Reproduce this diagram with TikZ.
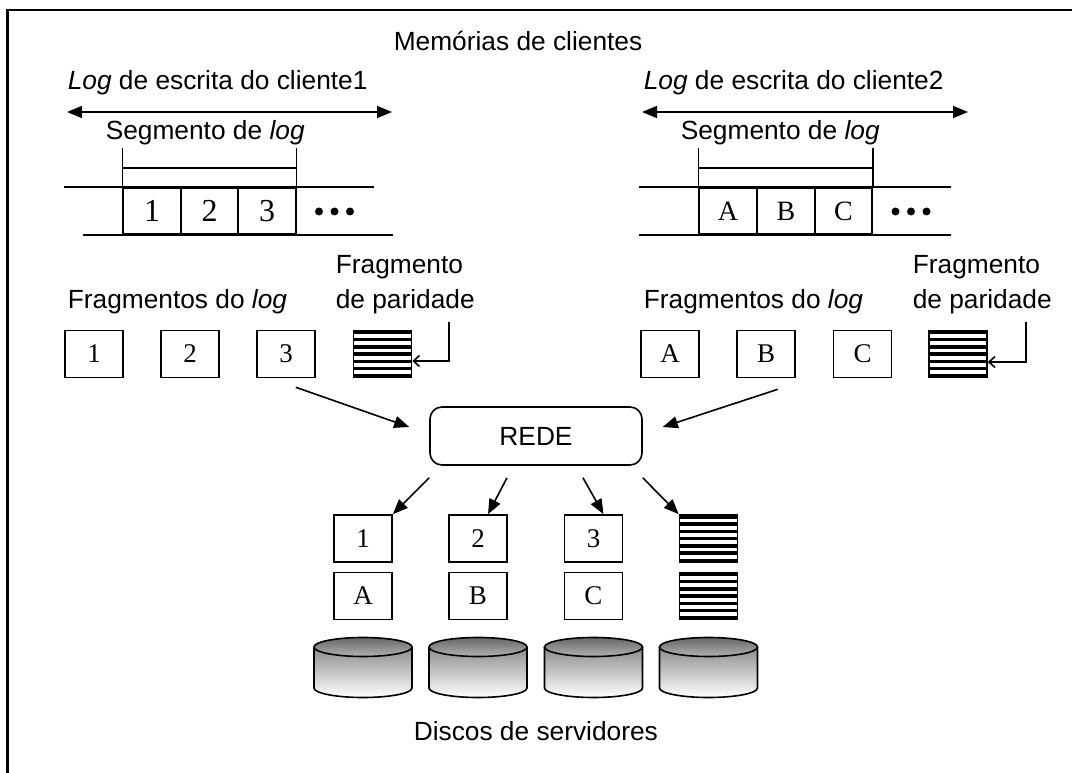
\documentclass[tikz,border=0pt]{standalone}
\usepackage{fontspec}
\setmainfont{Liberation Sans}
\newfontfamily\serifnum{Liberation Serif}
\usetikzlibrary{arrows.meta}
\begin{document}
\begin{tikzpicture}[x=1pt,y=-1pt,line width=1.6pt,
  lbl/.style={anchor=base west,inner sep=0pt,font=\fontsize{26.3}{31}\selectfont},
  cell/.style={draw,minimum width=57.5pt,minimum height=46pt,inner sep=0pt,font=\serifnum\fontsize{32}{32}\selectfont},
  cellb/.style={cell,font=\serifnum\fontsize{28}{28}\selectfont},
  frag/.style={draw,minimum width=58pt,minimum height=47pt,inner sep=0pt,font=\serifnum\fontsize{27}{27}\selectfont},
  parity/.style={draw,minimum width=58pt,minimum height=47pt,inner sep=0pt,
    path picture={\foreach \k in {0,...,6}{\fill ([yshift=-\k*7.25pt]path picture bounding box.north west) rectangle ++(60pt,-3.6pt);}}},
  rede/.style={draw,rounded corners=12pt,minimum width=212pt,minimum height=58pt,inner sep=0pt,font=\fontsize{26.3}{31}\selectfont},
  arr/.style={-{Triangle[length=15pt,width=12pt]}},
  darr/.style={{Triangle[length=15pt,width=12pt]}-{Triangle[length=15pt,width=12pt]}},
  parr/.style={-{Straight Barb[length=6pt,width=11pt]}},
  dotm/.style={circle,fill,inner sep=0pt,minimum size=8pt},
  frame/.style={line width=2.5pt}
]
\useasboundingbox (0,0) rectangle (1072,773);
% frame (top and left edges)
\draw[frame] (7.5,773) -- (7.5,10) -- (1072,10);

% titles
\node[lbl] (title) at (393,51) {Memórias de clientes};
\node[lbl] (log1) at (67,90) {\textit{Log} de escrita do cliente1};
\node[lbl] (log2) at (643,90) {\textit{Log} de escrita do cliente2};
\node[lbl] (seg1) at (105,140) {Segmento de \textit{log}};
\node[lbl] (seg2) at (680,140) {Segmento de \textit{log}};

% double arrows
\coordinate (la1) at (67,112);
\coordinate (la2) at (392,112);
\coordinate (ra1) at (642,112);
\coordinate (ra2) at (968,112);
\draw[darr] (la1) -- (la2);
\draw[darr] (ra1) -- (ra2);

% left log row
\node[cell] (c1) at (152,211) {1};
\node[cell] (c2) at (209.5,211) {2};
\node[cell] (c3) at (267,211) {3};
\draw ([shift={(-58,0)}]c1.north west) -- ([shift={(77,0)}]c3.north east);
\draw ([shift={(-39,0)}]c1.south west) -- ([shift={(96,0)}]c3.south east);
\draw (c1.north west) -- ++(0,-39);
\draw (c3.north east) -- ++(0,-39);
\draw ([shift={(0,-19)}]c1.north west) -- ([shift={(0,-19)}]c3.north east);
\node[dotm] (d1a) at (319,211.5) {};
\node[dotm] (d1b) at (334.5,211.5) {};
\node[dotm] (d1c) at (350,211.5) {};

% right log row
\node[cellb] (k1) at (728,211) {A};
\node[cellb] (k2) at (786,211) {B};
\node[cellb] (k3) at (843.5,211) {C};
\draw ([shift={(-59,0)}]k1.north west) -- ([shift={(78,0)}]k3.north east);
\draw ([shift={(-59,0)}]k1.south west) -- ([shift={(78,0)}]k3.south east);
\draw (k1.north west) -- ++(0,-39);
\draw (k3.north east) -- ++(0,-39);
\draw ([shift={(0,-19)}]k1.north west) -- ([shift={(0,-19)}]k3.north east);
\node[dotm] (d2a) at (895.5,211.5) {};
\node[dotm] (d2b) at (911,211.5) {};
\node[dotm] (d2c) at (926.5,211.5) {};

% fragment labels
\node[lbl] (fl1) at (67,308) {Fragmentos do \textit{log}};
\node[lbl] (fl2) at (643,308) {Fragmentos do \textit{log}};
\node[lbl] (pl1a) at (335,273) {Fragmento};
\node[lbl] (pl1b) at (335,308) {de paridade};
\node[lbl] (pl2a) at (912,273) {Fragmento};
\node[lbl] (pl2b) at (912,308) {de paridade};

% fragments client 1
\node[frag] (f1) at (94,354) {1};
\node[frag] (f2) at (190,354) {2};
\node[frag] (f3) at (286,354) {3};
\node[parity] (fp) at (382.5,354) {};
% fragments client 2
\node[frag] (g1) at (670,354) {A};
\node[frag] (g2) at (766,354) {B};
\node[frag] (g3) at (862.5,354) {C};
\node[parity] (gp) at (958,354) {};

% parity arrows
\coordinate (pa1) at (449,322);
\coordinate (pa2) at (1026,322);
\draw[parr] (pa1) |- ([shift={(0,7)}]fp.east);
\draw[parr] (pa2) |- ([shift={(0,8)}]gp.east);

% network
\node[rede] (rede) at (536,436) {REDE};
\draw[arr] ([shift={(-20,9)}]f3.south east) -- ([shift={(-20,-9)}]rede.west);
\draw[arr] ([shift={(-18,11)}]g2.south east) -- ([shift={(20,-9)}]rede.east);

% server blocks
\node[frag] (s1) at (363,538.5) {1};
\node[frag] (s2) at (478,538.5) {2};
\node[frag] (s3) at (593.5,538.5) {3};
\node[parity] (sp) at (708.5,538.5) {};
\node[frag] (t1) at (363,596) {A};
\node[frag] (t2) at (478,596) {B};
\node[frag] (t3) at (593.5,596) {C};
\node[parity] (tp) at (708.5,596) {};

\draw[arr] ([shift={(0,12)}]rede.south west) -- (s1.north east);
\draw[arr] ([shift={(-29,12)}]rede.south) -- ([shift={(10,0)}]s2.north);
\draw[arr] ([shift={(47,12)}]rede.south) -- ([shift={(10,0)}]s3.north);
\draw[arr] ([shift={(0,12)}]rede.south east) -- (sp.north west);

% disks
\foreach \cx/\nm in {363/dk1,478/dk2,593.5/dk3,708.5/dk4}{
  \coordinate (\nm) at (\cx,667);
  \shade[top color=black!45,bottom color=white]
    (\cx-49,647) -- (\cx-49,688) arc[start angle=180,end angle=360,x radius=49pt,y radius=9.5pt] -- (\cx+49,647) -- cycle;
  \draw (\cx-49,647) -- (\cx-49,688) arc[start angle=180,end angle=360,x radius=49pt,y radius=9.5pt] -- (\cx+49,647);
  \shade[top color=black!60,bottom color=black!30] (\cx,647) ellipse [x radius=49pt,y radius=9.5pt];
  \draw (\cx,647) ellipse [x radius=49pt,y radius=9.5pt];
}
\node[lbl] (discos) at (413,740) {Discos de servidores};
\end{tikzpicture}
\end{document}
